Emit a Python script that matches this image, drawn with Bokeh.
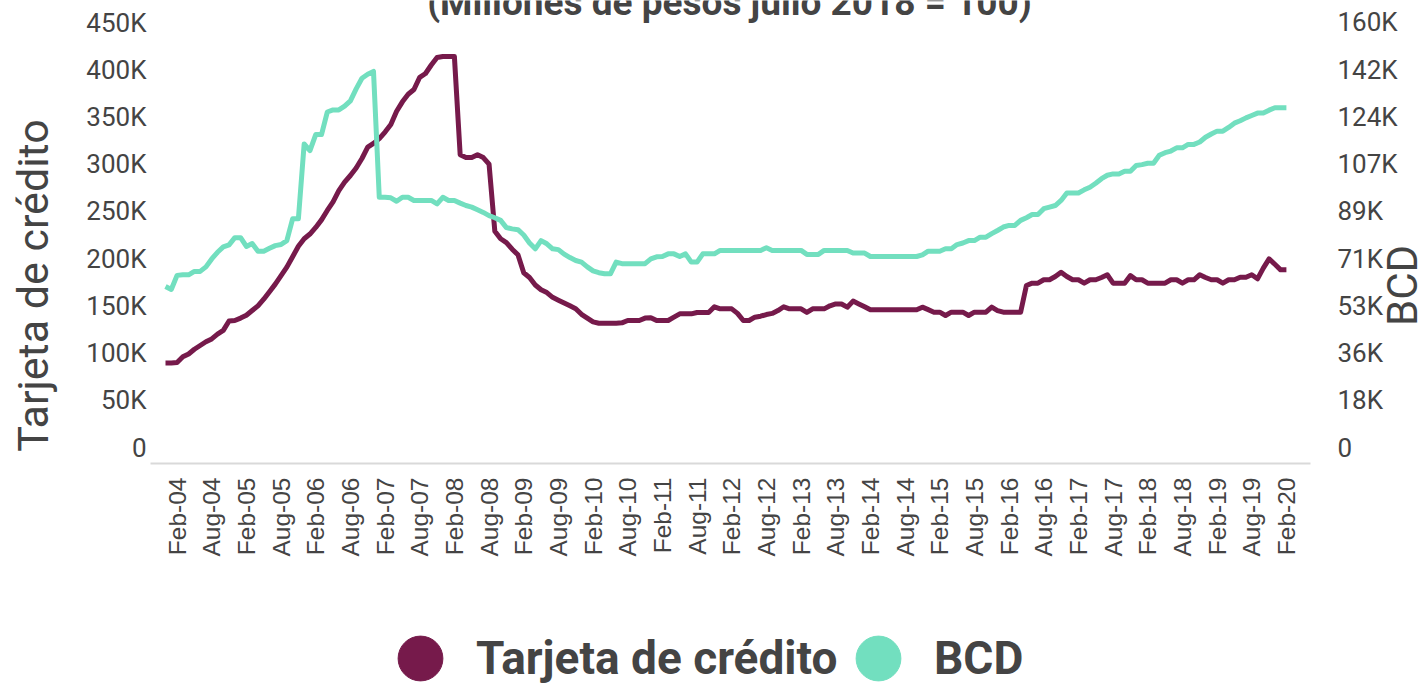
import math
from bokeh.plotting import figure
from bokeh.layouts import row, column
from bokeh.models import Range1d, LinearAxis, FixedTicker, Label, Legend, LegendItem
from bokeh.embed import file_html
from bokeh.resources import INLINE

# ---------------- data ----------------
# monthly series, index 0 = Dec-03 ... index 194 = Feb-20 (values in thousands)
tarjeta = [
    89.5, 89.5, 90, 96, 99, 104, 108, 112, 115, 120,
    124, 134, 134.5, 137, 140, 145, 150, 157, 165, 173,
    182, 191, 202, 213, 221, 226, 233, 241, 251, 260,
    272, 281, 288, 296, 306, 318, 322, 327, 334, 342,
    356, 366, 374, 379, 392, 396, 405, 413, 414, 414,
    414, 310, 307, 307, 310, 307, 300, 229, 221, 217,
    210, 204, 185, 180, 172, 167, 164, 159, 156, 153,
    150, 147, 141, 137, 133, 131.6, 131.6, 131.6, 131.6, 132,
    134.5, 134.5, 134.5, 137, 137.5, 134.5, 134.5, 134.5, 138, 141.5,
    141.5, 141.5, 143, 143, 143, 149, 146.8, 146.8, 146.8, 142,
    134.5, 134.5, 138, 139, 140.8, 142, 145, 149, 146.8, 146.8,
    146.8, 143, 146.8, 146.8, 146.8, 150, 152, 152, 148.6, 155,
    152, 149, 145.8, 145.8, 145.8, 145.8, 145.8, 145.8, 145.8, 145.8,
    145.8, 148.6, 146, 143.3, 143.3, 139.8, 143.3, 143.3, 143.3, 139.8,
    143.3, 143.3, 143.3, 148.6, 145, 143.3, 143.3, 143.3, 143.3, 171.5,
    174, 174, 177.6, 177.6, 181, 185.6, 181, 177.6, 177.6, 174,
    177.6, 177.6, 180, 182.9, 174, 174, 174, 182, 177.6, 177.6,
    174, 174, 174, 174, 177.6, 177.6, 174, 177.6, 177.6, 182.9,
    180, 177.6, 177.6, 174, 177.6, 177.6, 180.3, 180.3, 182.9, 178.6,
    190, 199.8, 194, 188.1, 188.1,
]
bcd = [
    60.6, 59.5, 64.8, 65, 65, 66.3, 66.3, 68, 71, 73.5,
    75.5, 76.3, 79, 79, 75.7, 76.8, 73.9, 73.9, 75, 76,
    76.4, 77.9, 86.1, 86.1, 114.3, 111.8, 117.8, 117.8, 126.3, 127.1,
    127.1, 128.5, 130.5, 135, 139, 140.5, 141.6, 94.2, 94.2, 94,
    92.7, 94.2, 94.2, 93, 93, 93, 93, 91.7, 94.2, 93,
    93, 92, 91.1, 90.5, 89.5, 88.5, 87.3, 86.5, 85.5, 82.8,
    82.3, 82, 80, 77, 74.8, 77.9, 76.7, 74.8, 74.5, 72.8,
    71.5, 70.4, 69.8, 68, 66.5, 65.8, 65.4, 65.4, 69.8, 69.2,
    69.2, 69.2, 69.2, 69.2, 71, 71.8, 71.9, 72.9, 72.9, 71.9,
    72.9, 69.8, 69.8, 72.9, 72.9, 72.9, 74.2, 74.2, 74.2, 74.2,
    74.2, 74.2, 74.2, 74.2, 75.2, 74.2, 74.2, 74.2, 74.2, 74.2,
    74.2, 72.7, 72.7, 72.7, 74.2, 74.2, 74.2, 74.2, 74.2, 73.2,
    73.2, 73.2, 71.9, 71.9, 71.9, 71.9, 71.9, 71.9, 71.9, 71.9,
    71.9, 72.5, 73.9, 73.9, 73.9, 74.8, 74.8, 76.4, 77, 77.9,
    77.9, 79.2, 79.2, 80.5, 81.7, 83, 83.6, 83.6, 85.5, 86.5,
    87.7, 87.7, 89.9, 90.5, 91.1, 93, 95.8, 95.8, 95.8, 97,
    98, 99.5, 101.2, 102.5, 103, 103, 104, 104, 106.2, 106.5,
    107, 107, 110, 111, 111.6, 112.8, 112.8, 114.1, 114.1, 115,
    116.8, 118, 119.1, 119.1, 120.5, 122.1, 123, 124.1, 125, 125.9,
    125.9, 127, 127.9, 127.9, 127.9,
]
x_labels = [
    "Feb-04", "Aug-04", "Feb-05", "Aug-05", "Feb-06", "Aug-06", "Feb-07", "Aug-07",
    "Feb-08", "Aug-08", "Feb-09", "Aug-09", "Feb-10", "Aug-10", "Feb-11", "Aug-11",
    "Feb-12", "Aug-12", "Feb-13", "Aug-13", "Feb-14", "Aug-14", "Feb-15", "Aug-15",
    "Feb-16", "Aug-16", "Feb-17", "Aug-17", "Feb-18", "Aug-18", "Feb-19", "Aug-19",
    "Feb-20",
]
first_label_month = 2      # Feb-04 is the 3rd month of the series
label_step = 6
left_ticks = [0, 50, 100, 150, 200, 250, 300, 350, 400, 450]
left_labels = ["0", "50K", "100K", "150K", "200K", "250K", "300K", "350K", "400K", "450K"]
right_max = 160
right_labels = ["0", "18K", "36K", "53K", "71K", "89K", "107K", "124K", "142K", "160K"]
series_names = ["Tarjeta de crédito", "BCD"]
title_text = "(Millones de pesos julio 2018 = 100)"

# ---------------- style ----------------
C_T = "#761A4B"
C_B = "#72DFBF"
TXT = "#444444"
FONT = "Roboto"

months = list(range(len(tarjeta)))
x_ticks = [first_label_month + label_step * k for k in range(len(x_labels))]
right_ticks = [right_max * k / (len(right_labels) - 1) for k in range(len(right_labels))]


def blank_fig(w, h, **kw):
    f = figure(width=w, height=h, output_backend="svg", toolbar_location=None,
               x_axis_location=None, y_axis_location=None, min_border=0,
               outline_line_color=None, x_range=Range1d(0, 1), y_range=Range1d(0, 1),
               background_fill_alpha=0, border_fill_alpha=0, **kw)
    f.grid.visible = False
    return f


def bare(ax):
    ax.axis_line_color = None
    ax.major_tick_line_color = None
    ax.minor_tick_line_color = None
    ax.major_tick_out = 0
    ax.major_tick_in = 0
    ax.minor_tick_out = 0
    ax.minor_tick_in = 0


# ---------------- main chart ----------------
p = figure(width=1362, height=610, output_backend="svg", toolbar_location=None,
           x_range=Range1d(-2.596, 198.17), y_range=Range1d(-16.94, 473.3),
           min_border_left=90, min_border_right=112, min_border_top=0,
           min_border_bottom=147, outline_line_color=None)
p.xgrid.visible = False
p.ygrid.visible = False

xa = p.xaxis[0]
bare(xa)
xa.axis_line_color = "#d9d9d9"
xa.axis_line_width = 2
xa.ticker = FixedTicker(ticks=x_ticks)
xa.major_label_overrides = {t: l for t, l in zip(x_ticks, x_labels)}
xa.major_label_orientation = math.pi / 2
xa.major_label_text_font = "Liberation Sans"
xa.major_label_text_font_size = "24.5px"
xa.major_label_text_color = TXT
xa.major_label_standoff = 14

ya = p.yaxis[0]
bare(ya)
ya.ticker = FixedTicker(ticks=left_ticks)
ya.major_label_overrides = {t: l for t, l in zip(left_ticks, left_labels)}
ya.major_label_standoff = 4
ya.major_label_text_font = FONT
ya.major_label_text_font_size = "26px"
ya.major_label_text_color = TXT

p.extra_y_ranges = {"bcd": Range1d(-6.02, 168.28)}
ra = LinearAxis(y_range_name="bcd", ticker=FixedTicker(ticks=right_ticks))
bare(ra)
ra.major_label_overrides = {t: l for t, l in zip(right_ticks, right_labels)}
ra.major_label_standoff = 27
ra.major_label_text_font = FONT
ra.major_label_text_font_size = "26px"
ra.major_label_text_color = TXT
p.add_layout(ra, "right")

p.line(months, tarjeta, color=C_T, line_width=5, line_join="round")
p.line(months, bcd, color=C_B, line_width=5, line_join="round", y_range_name="bcd")

# chart title, partly above the page edge as in the reference
p.add_layout(Label(x=579, y=461, x_units="screen", y_units="screen",
                   text=title_text, text_align="center", text_baseline="alphabetic",
                   text_font=FONT, text_font_style="bold",
                   text_font_size="37px", text_color=TXT))

# ---------------- axis titles (transparent side strips) ----------------
left_fig = blank_fig(60, 610)
left_fig.add_layout(Label(x=32, y=178, x_units="screen", y_units="screen",
                          text=series_names[0], angle=math.pi / 2,
                          text_align="center", text_baseline="middle",
                          text_font=FONT, text_font_size="43px", text_color=TXT))

bcd_fig = blank_fig(60, 610, margin=(0, 0, 0, -60))
bcd_fig.add_layout(Label(x=40, y=178, x_units="screen", y_units="screen",
                         text=series_names[1], angle=math.pi / 2,
                         text_align="center", text_baseline="middle",
                         text_font=FONT, text_font_size="42px", text_color=TXT))

# ---------------- legend ----------------
leg_fig = blank_fig(1422, 75)
colors = [C_T, C_B]
legend_x = [364, 822]
for name, col, lx in zip(series_names, colors, legend_x):
    r = leg_fig.scatter([-10], [-10], marker="circle", size=1, color=col)
    lg = Legend(items=[LegendItem(label=name, renderers=[r])],
                location=(lx, -29), orientation="horizontal",
                glyph_width=112, glyph_height=112, label_standoff=0, spacing=0,
                padding=0, margin=0, border_line_alpha=0, background_fill_alpha=0,
                label_text_font=FONT, label_text_font_style="bold",
                label_text_font_size="46px", label_text_color=TXT,
                label_text_baseline="middle")
    leg_fig.add_layout(lg, "center")

layout = column(row(left_fig, p, bcd_fig), leg_fig)
open("out.html", "w").write(file_html(layout, INLINE))
